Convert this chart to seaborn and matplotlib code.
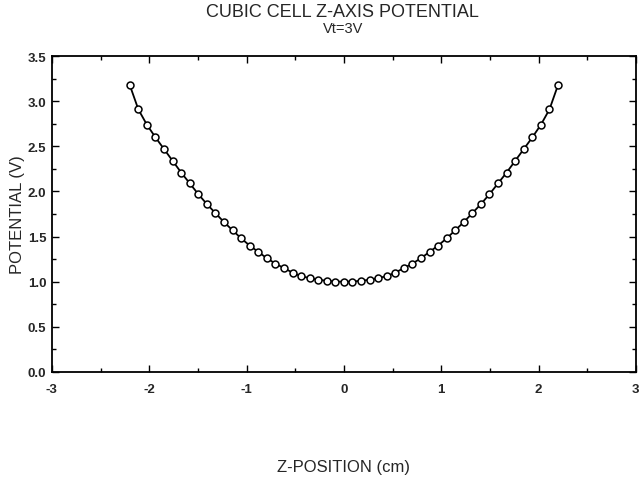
import numpy as np
import pandas as pd
import matplotlib
matplotlib.use("Agg")
import matplotlib.pyplot as plt
from matplotlib.ticker import MultipleLocator
import seaborn as sns

# data (symmetric about z=0)
z_pos = list(np.round(np.linspace(-2.2, 2.2, 51), 3))
left_half = [3.18, 2.91, 2.74, 2.60, 2.47, 2.34, 2.21, 2.09, 1.97, 1.86,
             1.76, 1.66, 1.57, 1.48, 1.40, 1.33, 1.26, 1.20, 1.15, 1.10,
             1.06, 1.04, 1.02, 1.01, 1.00]
center = [1.00]
potential = left_half + center + left_half[::-1]

x_ticks = [-3, -2, -1, 0, 1, 2, 3]
y_ticks = [0.0, 0.5, 1.0, 1.5, 2.0, 2.5, 3.0, 3.5]

title = "CUBIC CELL Z-AXIS POTENTIAL"
subtitle = "Vt=3V"
xlabel = "Z-POSITION (cm)"
ylabel = "POTENTIAL (V)"

sns.set_theme(style="white")
plt.rcParams['font.family'] = ['Liberation Sans', 'DejaVu Sans']

df = pd.DataFrame({"z": z_pos, "v": potential})

fig = plt.figure(figsize=(6.41, 4.81), dpi=100)
ax = fig.add_axes([0.081, 0.225, 0.911, 0.656])

sns.lineplot(data=df, x="z", y="v", ax=ax, color="black", linewidth=1.3,
             marker="o", markersize=5, markerfacecolor="white",
             markeredgecolor="black", markeredgewidth=1.1, sort=False)

ax.set_xlim(-3, 3)
ax.set_ylim(0, 3.5)
ax.set_xticks(x_ticks)
ax.set_xticklabels([str(t) for t in x_ticks], fontweight="bold", fontsize=9.5)
ax.set_yticks(y_ticks)
ax.set_yticklabels([f"{t:.1f}" for t in y_ticks], fontweight="bold", fontsize=9.5)
ax.xaxis.set_minor_locator(MultipleLocator(0.5))
ax.yaxis.set_minor_locator(MultipleLocator(0.25))
ax.tick_params(which="both", direction="in", top=True, right=True,
               bottom=True, left=True, color="black", width=1.0)
ax.tick_params(which="major", length=5)
ax.tick_params(axis="y", which="major", pad=4)
ax.tick_params(axis="x", which="major", pad=8)
ax.tick_params(which="minor", length=3)
for s in ax.spines.values():
    s.set_color("black")
    s.set_linewidth(1.3)

ax.set_xlabel(xlabel, fontsize=12, labelpad=46)
ax.set_ylabel(ylabel, fontsize=12, labelpad=2)

fig.text(0.535, 0.975, title, ha="center", va="center", fontsize=13)
fig.text(0.535, 0.940, subtitle, ha="center", va="center", fontsize=10.5)

fig.savefig("out.png", dpi=100, facecolor="white")
